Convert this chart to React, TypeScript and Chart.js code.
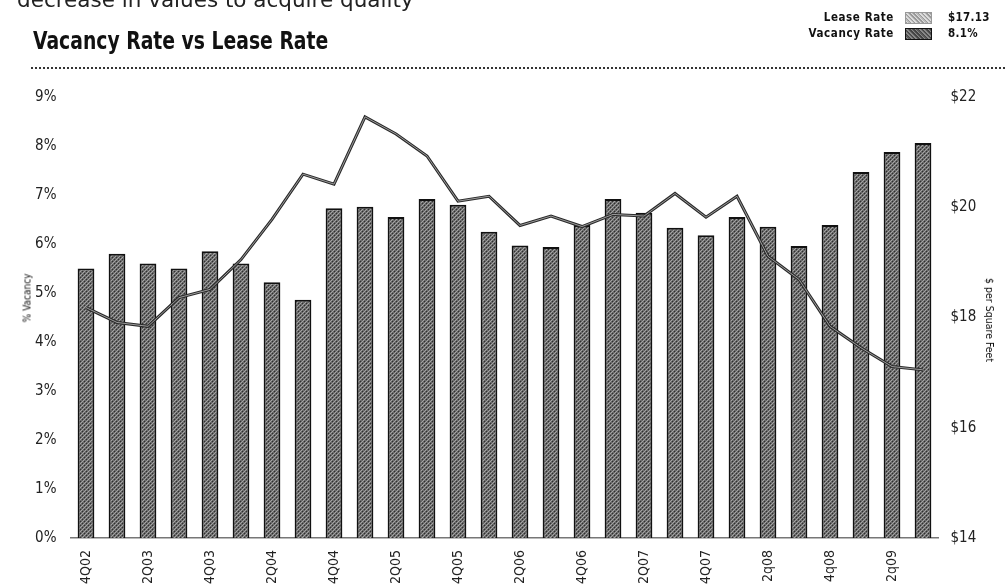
import React, { useEffect, useRef } from "react";
import { Chart, registerables } from "chart.js";

Chart.register(...registerables);

const categories = [
  "4Q02", "1Q03", "2Q03", "3Q03", "4Q03", "1Q04", "2Q04", "3Q04", "4Q04",
  "1Q05", "2Q05", "3Q05", "4Q05", "1Q06", "2Q06", "3Q06", "4Q06", "1Q07",
  "2Q07", "3Q07", "4Q07", "1q08", "2q08", "3q08", "4q08", "1q09", "2q09", "3q09",
];

const vacancyRate = [
  5.5, 5.8, 5.6, 5.5, 5.85, 5.6, 5.22, 4.86, 6.73, 6.76, 6.55, 6.92, 6.8, 6.25,
  5.97, 5.94, 6.39, 6.92, 6.64, 6.33, 6.18, 6.55, 6.35, 5.96, 6.39, 7.47, 7.88, 8.06,
];

const leaseRate = [
  18.18, 17.91, 17.84, 18.36, 18.51, 19.05, 19.78, 20.6, 20.42, 21.64, 21.33,
  20.93, 20.11, 20.2, 19.67, 19.84, 19.65, 19.87, 19.84, 20.25, 19.82, 20.2,
  19.11, 18.69, 17.84, 17.45, 17.11, 17.05,
];

const leftTicks = [0, 1, 2, 3, 4, 5, 6, 7, 8, 9];
const rightTicks = [14, 16, 18, 20, 22];

const legendItems = [
  { label: "Lease Rate", value: "$17.13" },
  { label: "Vacancy Rate", value: "8.1%" },
];

const NARROW = "'Liberation Sans Narrow', 'DejaVu Sans Condensed', 'Noto Sans', sans-serif";

function makePattern(): CanvasPattern | string {
  const c = document.createElement("canvas");
  c.width = 4;
  c.height = 4;
  const g = c.getContext("2d");
  if (!g) return "#666";
  g.fillStyle = "#686868";
  g.fillRect(0, 0, 4, 4);
  g.fillStyle = "#303030";
  for (let i = 0; i < 4; i++) g.fillRect(i, (i + 1) % 4, 1, 1);
  g.fillStyle = "#a4a4a4";
  for (let i = 0; i < 4; i++) g.fillRect(i, (3 - i + 4) % 4, 1, 1);
  const p = g.createPattern(c, "repeat");
  return p || "#666";
}

export default function App() {
  const ref = useRef<HTMLCanvasElement | null>(null);

  useEffect(() => {
    if (!ref.current) return;
    const pattern = makePattern();
    const chart = new Chart(ref.current, {
      type: "bar",
      data: {
        labels: categories,
        datasets: [
          {
            type: "line",
            label: "Lease Rate",
            data: leaseRate,
            yAxisID: "y2",
            borderColor: "#9c9c9c",
            borderWidth: 1,
            pointRadius: 0,
            tension: 0,
            order: 0,
          } as any,
          {
            type: "line",
            label: "Lease Rate outline",
            data: leaseRate,
            yAxisID: "y2",
            borderColor: "#2a2a2a",
            borderWidth: 3,
            pointRadius: 0,
            tension: 0,
            order: 1,
          } as any,
          {
            type: "bar",
            label: "Vacancy Rate",
            data: vacancyRate,
            yAxisID: "y",
            backgroundColor: pattern as any,
            borderColor: "#111",
            borderWidth: 2,
            borderSkipped: "bottom",
            barPercentage: 0.54,
            categoryPercentage: 1,
            order: 2,
          },
        ],
      },
      options: {
        responsive: false,
        animation: false,
        devicePixelRatio: 1,
        layout: { padding: { top: 97, left: 0, right: 0, bottom: 0 } },
        plugins: { legend: { display: false }, tooltip: { enabled: false } },
        scales: {
          x: {
            grid: { display: false, drawTicks: false },
            border: { display: true, color: "#777", width: 1.5, dash: [2, 3] },
            ticks: {
              autoSkip: false,
              minRotation: 90,
              maxRotation: 90,
              padding: 12,
              color: "#222",
              font: { family: NARROW, size: 14 },
              callback: (_v: any, i: number) => (i % 2 === 0 ? categories[i] : ""),
            },
            afterFit: (s: any) => {
              s.height = 82;
            },
          },
          y: {
            position: "left",
            min: 0,
            max: 9,
            afterBuildTicks: (s: any) => {
              s.ticks = leftTicks.map((v) => ({ value: v }));
            },
            grid: { display: false, drawTicks: false },
            border: { display: false },
            ticks: {
              padding: 14,
              color: "#222",
              font: { family: NARROW, size: 15 },
              callback: (v: any) => v + "%",
            },
            afterFit: (s: any) => {
              s.width = 70.5;
            },
          },
          y2: {
            position: "right",
            min: 14,
            max: 22,
            afterBuildTicks: (s: any) => {
              s.ticks = rightTicks.map((v) => ({ value: v }));
            },
            grid: { display: false, drawTicks: false },
            border: { display: false },
            ticks: {
              padding: 12,
              color: "#222",
              font: { family: NARROW, size: 15 },
              callback: (v: any) => "$" + v,
            },
            afterFit: (s: any) => {
              s.width = 66.5;
            },
          },
        },
      },
    });
    return () => chart.destroy();
  }, []);

  const swatchDark =
    "repeating-linear-gradient(45deg, #444 0px, #444 1px, #888 1px, #888 2px, #5a5a5a 2px, #5a5a5a 3px)";
  const swatchLight =
    "repeating-linear-gradient(45deg, #999 0px, #999 1px, #ddd 1px, #ddd 2px, #bbb 2px, #bbb 3px)";

  return (
    <div
      style={{
        position: "absolute",
        left: 0,
        top: 0,
        width: 1005,
        height: 584,
        overflow: "hidden",
        background: "#fff",
        color: "#111",
      }}
    >
      <canvas
        ref={ref}
        width={1005}
        height={620}
        style={{ position: "absolute", left: 0, top: 0, width: 1005, height: 620 }}
      />
      <div
        style={{
          position: "absolute",
          left: 17,
          top: -13,
          fontFamily: "'DejaVu Sans', sans-serif",
          fontSize: 21.5,
          whiteSpace: "nowrap",
          color: "#222",
        }}
      >
        decrease in values to acquire quality
      </div>
      <div
        style={{
          position: "absolute",
          left: 33,
          top: 27,
          fontFamily: NARROW,
          fontWeight: "bold",
          fontSize: 24,
          lineHeight: "28px",
          whiteSpace: "nowrap",
          color: "#111",
          transform: "scaleX(0.87)",
          transformOrigin: "0 0",
        }}
      >
        Vacancy Rate vs Lease Rate
      </div>
      <div
        style={{
          position: "absolute",
          left: 31,
          top: 67,
          width: 974,
          borderTop: "2px dotted #333",
        }}
      />
      {legendItems.map((it, i) => (
        <React.Fragment key={it.label}>
          <div
            style={{
              position: "absolute",
              right: 1005 - 894,
              top: 10 + i * 16,
              fontFamily: NARROW,
              fontWeight: "bold",
              fontSize: 11.5,
              lineHeight: "14px",
              letterSpacing: 0.6,
              whiteSpace: "nowrap",
            }}
          >
            {it.label}
          </div>
          <div
            style={{
              position: "absolute",
              left: 905,
              top: 12 + i * 16,
              width: 25,
              height: 10,
              background: i === 0 ? swatchLight : swatchDark,
              border: i === 0 ? "1px solid #999" : "1.5px solid #111",
            }}
          />
          <div
            style={{
              position: "absolute",
              left: 948,
              top: 10 + i * 16,
              fontFamily: NARROW,
              fontWeight: "bold",
              fontSize: 11.5,
              lineHeight: "14px",
              letterSpacing: 0.3,
              whiteSpace: "nowrap",
            }}
          >
            {it.value}
          </div>
        </React.Fragment>
      ))}
      <div
        style={{
          position: "absolute",
          left: 27,
          top: 298,
          transform: "translate(-50%, -50%) rotate(-90deg)",
          fontFamily: NARROW,
          fontSize: 10,
          whiteSpace: "nowrap",
          color: "#111",
        }}
      >
        % Vacancy
      </div>
      <div
        style={{
          position: "absolute",
          left: 990,
          top: 320,
          transform: "translate(-50%, -50%) rotate(90deg)",
          fontFamily: NARROW,
          fontSize: 10.5,
          whiteSpace: "nowrap",
          color: "#111",
        }}
      >
        $ per Square Feet
      </div>
    </div>
  );
}
